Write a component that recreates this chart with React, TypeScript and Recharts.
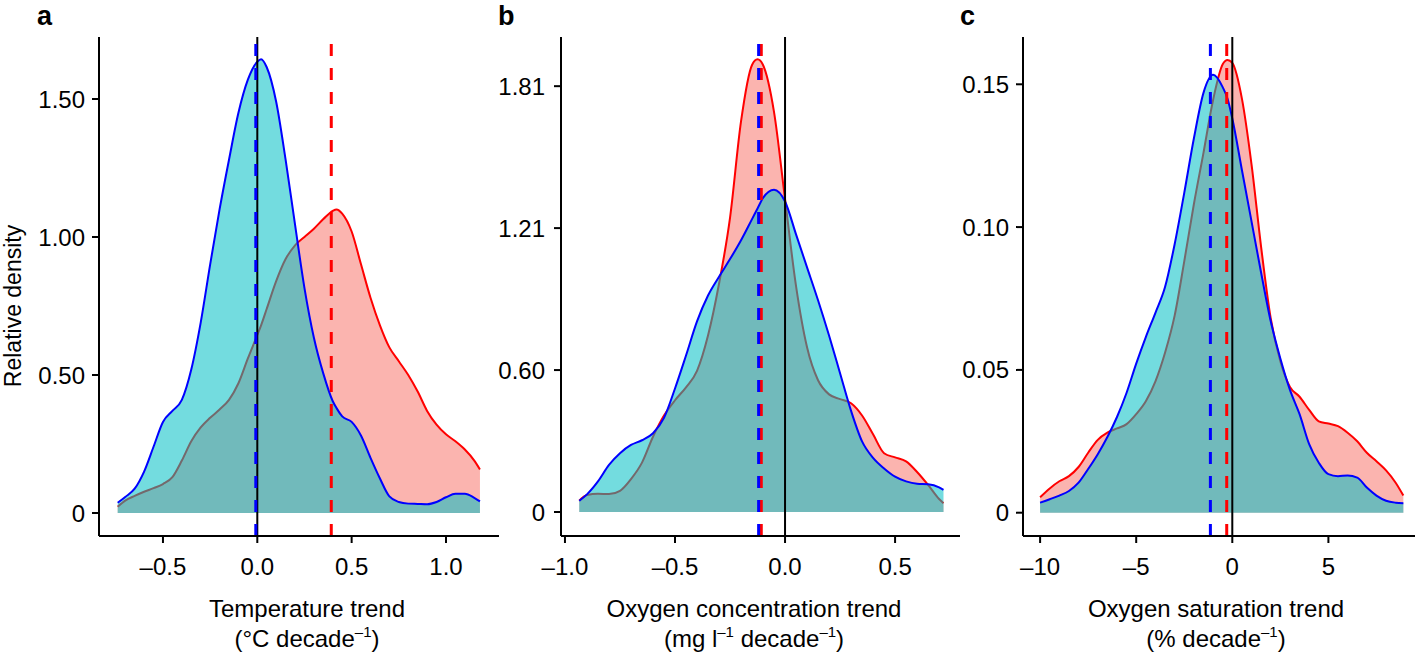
import { Area, ComposedChart, ReferenceLine, XAxis, YAxis } from "recharts";

// a: temperature trend (°C per decade)
const tempX = [-0.74, -0.7, -0.65, -0.6, -0.55, -0.5, -0.45, -0.4, -0.35, -0.3, -0.25, -0.2, -0.15, -0.1, -0.05, 0, 0.02, 0.05, 0.1, 0.15, 0.2, 0.25, 0.3, 0.35, 0.4, 0.42, 0.45, 0.5, 0.55, 0.6, 0.65, 0.7, 0.75, 0.8, 0.85, 0.9, 0.95, 1.0, 1.05, 1.1, 1.15, 1.18];
const tempRed = [0.023, 0.045, 0.062, 0.077, 0.09, 0.105, 0.13, 0.19, 0.26, 0.31, 0.345, 0.375, 0.41, 0.47, 0.56, 0.645, 0.68, 0.74, 0.84, 0.92, 0.97, 1.0, 1.03, 1.065, 1.095, 1.1, 1.085, 1.02, 0.9, 0.78, 0.68, 0.6, 0.55, 0.5, 0.44, 0.37, 0.32, 0.285, 0.26, 0.23, 0.19, 0.158];
const tempBlue = [0.037, 0.058, 0.088, 0.15, 0.24, 0.33, 0.37, 0.41, 0.52, 0.69, 0.9, 1.1, 1.28, 1.45, 1.57, 1.635, 1.644, 1.615, 1.49, 1.28, 1.045, 0.815, 0.635, 0.505, 0.405, 0.38, 0.35, 0.33, 0.28, 0.2, 0.125, 0.06, 0.04, 0.034, 0.033, 0.032, 0.04, 0.057, 0.07, 0.07, 0.055, 0.042];

// b: oxygen concentration trend (mg/l per decade)
const concX = [-0.935, -0.9, -0.85, -0.8, -0.75, -0.7, -0.65, -0.6, -0.55, -0.5, -0.45, -0.4, -0.35, -0.3, -0.25, -0.2, -0.15, -0.125, -0.1, -0.05, 0, 0.05, 0.1, 0.15, 0.2, 0.25, 0.3, 0.35, 0.4, 0.45, 0.5, 0.55, 0.6, 0.65, 0.7, 0.72];
const concRed = [0.048, 0.072, 0.078, 0.076, 0.09, 0.14, 0.21, 0.32, 0.41, 0.475, 0.53, 0.6, 0.75, 0.97, 1.25, 1.66, 1.9, 1.924, 1.9, 1.7, 1.33, 0.96, 0.7, 0.56, 0.5, 0.48, 0.462, 0.41, 0.33, 0.25, 0.232, 0.215, 0.17, 0.115, 0.055, 0.037];
const concBlue = [0.048, 0.075, 0.13, 0.2, 0.25, 0.285, 0.305, 0.335, 0.4, 0.525, 0.665, 0.81, 0.92, 1.0, 1.075, 1.155, 1.245, 1.29, 1.335, 1.37, 1.32, 1.18, 1.04, 0.9, 0.75, 0.59, 0.43, 0.3, 0.23, 0.185, 0.15, 0.13, 0.12, 0.118, 0.105, 0.094];

// c: oxygen saturation trend (% per decade)
const satX = [-10, -9.5, -9, -8.5, -8, -7.5, -7, -6.5, -6, -5.5, -5, -4.5, -4, -3.5, -3, -2.5, -2, -1.5, -1, -0.5, -0.25, 0, 0.5, 1, 1.5, 2, 2.5, 3, 3.5, 4, 4.5, 5, 5.5, 6, 6.5, 7, 7.5, 8, 8.5, 8.9];
const satRed = [0.0054, 0.0085, 0.011, 0.0128, 0.016, 0.021, 0.0255, 0.028, 0.0295, 0.031, 0.0345, 0.039, 0.046, 0.056, 0.069, 0.088, 0.108, 0.126, 0.1445, 0.157, 0.1585, 0.1575, 0.145, 0.122, 0.093, 0.068, 0.053, 0.044, 0.0406, 0.036, 0.032, 0.0312, 0.0303, 0.028, 0.025, 0.021, 0.018, 0.0148, 0.0105, 0.006];
const satBlue = [0.0035, 0.0047, 0.006, 0.0076, 0.0105, 0.0153, 0.0205, 0.0265, 0.0335, 0.042, 0.0522, 0.0615, 0.07, 0.079, 0.094, 0.112, 0.131, 0.147, 0.1533, 0.149, 0.145, 0.138, 0.12, 0.102, 0.084, 0.067, 0.054, 0.043, 0.0345, 0.024, 0.0175, 0.0135, 0.0128, 0.013, 0.0123, 0.0088, 0.006, 0.0042, 0.0035, 0.0033];

const tempMeans = { red: 0.392, blue: -0.008 };
const concMeans = { red: -0.108, blue: -0.12 };
const satMeans = { red: -0.29, blue: -1.14 };

const tempXTicks = [-0.5, 0, 0.5, 1.0];
const tempYTicks = [0, 0.5, 1.0, 1.5];
const concXTicks = [-1.0, -0.5, 0, 0.5];
const concYTicks = [0, 0.6033, 1.2067, 1.81];
const satXTicks = [-10, -5, 0, 5];
const satYTicks = [0, 0.05, 0.1, 0.15];

const RED = "#FF0000";
const BLUE = "#0000FF";
const FONT = "'Liberation Sans', Arial, Helvetica, sans-serif";

const minus = (s: string) => s.replace("-", "\u2013");

function rows(xs: number[], red: number[], blue: number[]) {
  return xs.map((x, i) => ({ x, red: red[i], blue: blue[i] }));
}

type PanelProps = {
  left: number;
  width: number;
  yWidth: number;
  right: number;
  data: { x: number; red: number; blue: number }[];
  xDomain: [number, number];
  yDomain: [number, number];
  xTicks: number[];
  yTicks: number[];
  xFmt: (v: number) => string;
  yFmt: (v: number) => string;
  means: { red: number; blue: number };
  yTickMargin: number;
};

function Panel(p: PanelProps) {
  const tick = { fill: "#000", fontSize: 24, fontFamily: FONT };
  return (
    <div style={{ position: "absolute", left: p.left, top: 0 }}>
      <ComposedChart
        width={p.width}
        height={654}
        data={p.data}
        margin={{ top: 37, right: p.right, bottom: 0, left: 0 }}
      >
        <XAxis
          type="number"
          dataKey="x"
          domain={p.xDomain}
          ticks={p.xTicks}
          allowDataOverflow
          interval={0}
          height={118}
          tickSize={7}
          tickMargin={15}
          tick={tick}
          tickFormatter={p.xFmt}
          axisLine={{ stroke: "#000", strokeWidth: 2 }}
          tickLine={{ stroke: "#000", strokeWidth: 2 }}
        />
        <YAxis
          type="number"
          domain={p.yDomain}
          ticks={p.yTicks}
          allowDataOverflow
          interval={0}
          width={p.yWidth}
          tickSize={7}
          tickMargin={p.yTickMargin}
          tick={tick}
          tickFormatter={p.yFmt}
          axisLine={{ stroke: "#000", strokeWidth: 2 }}
          tickLine={{ stroke: "#000", strokeWidth: 2 }}
        />
        <Area
          type="monotone"
          dataKey="red"
          baseValue={0}
          stroke={RED}
          strokeWidth={2}
          fill="#F8766D"
          fillOpacity={0.55}
          dot={false}
          activeDot={false}
          isAnimationActive={false}
        />
        <Area
          type="monotone"
          dataKey="blue"
          baseValue={0}
          stroke={BLUE}
          strokeWidth={2}
          fill="#00BFC4"
          fillOpacity={0.55}
          dot={false}
          activeDot={false}
          isAnimationActive={false}
        />
        <ReferenceLine x={0} stroke="#000" strokeWidth={2} />
        <ReferenceLine x={p.means.red} stroke={RED} strokeWidth={3} strokeDasharray="12 12" />
        <ReferenceLine x={p.means.blue} stroke={BLUE} strokeWidth={3} strokeDasharray="12 12" />
      </ComposedChart>
    </div>
  );
}

function AxisTitle({ cx, line1, pre, sup, mid, sup2 }: { cx: number; line1: string; pre: string; sup: string; mid?: string; sup2?: string }) {
  return (
    <>
      <text x={cx} y={617} textAnchor="middle" fontSize={24}>
        {line1}
      </text>
      <text x={cx} y={647} textAnchor="middle" fontSize={24}>
        {pre}
        <tspan fontSize={15} dy={-10}>{sup}</tspan>
        {mid !== undefined && (
          <>
            <tspan dy={10}>{mid}</tspan>
            <tspan fontSize={15} dy={-10}>{sup2}</tspan>
          </>
        )}
        <tspan dy={10}>)</tspan>
      </text>
    </>
  );
}

export default function App() {
  const f1 = (v: number) => minus(v.toFixed(1));
  const f0 = (v: number) => minus(v.toFixed(0));
  const y2 = (v: number) => (v === 0 ? "0" : v.toFixed(2));

  return (
    <div
      style={{
        position: "absolute",
        left: 0,
        top: 0,
        width: 1415,
        height: 654,
        background: "#fff",
        fontFamily: FONT,
        overflow: "hidden",
      }}
    >
      <Panel
        left={0}
        width={520}
        yWidth={99}
        right={21}
        data={rows(tempX, tempRed, tempBlue)}
        xDomain={[-0.839, 1.281]}
        yDomain={[-0.0833, 1.7246]}
        xTicks={tempXTicks}
        yTicks={tempYTicks}
        xFmt={f1}
        yFmt={y2}
        means={tempMeans}
        yTickMargin={7}
      />
      <Panel
        left={480}
        width={500}
        yWidth={81}
        right={20}
        data={rows(concX, concRed, concBlue)}
        xDomain={[-1.018, 0.795]}
        yDomain={[-0.102, 2.019]}
        xTicks={concXTicks}
        yTicks={concYTicks}
        xFmt={f1}
        yFmt={y2}
        means={concMeans}
        yTickMargin={9}
      />
      <Panel
        left={940}
        width={475}
        yWidth={83}
        right={0}
        data={rows(satX, satRed, satBlue)}
        xDomain={[-10.89, 9.506]}
        yDomain={[-0.00816, 0.16656]}
        xTicks={satXTicks}
        yTicks={satYTicks}
        xFmt={f0}
        yFmt={y2}
        means={satMeans}
        yTickMargin={7}
      />
      <svg
        width={1415}
        height={654}
        style={{ position: "absolute", left: 0, top: 0, pointerEvents: "none" }}
        fontFamily={FONT}
      >
        <text x={37} y={25} fontSize={27} fontWeight={900}>a</text>
        <text x={498} y={25} fontSize={27} fontWeight={900}>b</text>
        <text x={960} y={25} fontSize={27} fontWeight={900}>c</text>
        <text transform="translate(21,306) rotate(-90)" textAnchor="middle" fontSize={23}>
          Relative density
        </text>
        <AxisTitle cx={307} line1="Temperature trend" pre="(°C decade" sup={"\u20131"} />
        <AxisTitle cx={754} line1="Oxygen concentration trend" pre="(mg l" sup={"\u20131"} mid=" decade" sup2={"\u20131"} />
        <AxisTitle cx={1216} line1="Oxygen saturation trend" pre="(% decade" sup={"\u20131"} />
      </svg>
    </div>
  );
}
